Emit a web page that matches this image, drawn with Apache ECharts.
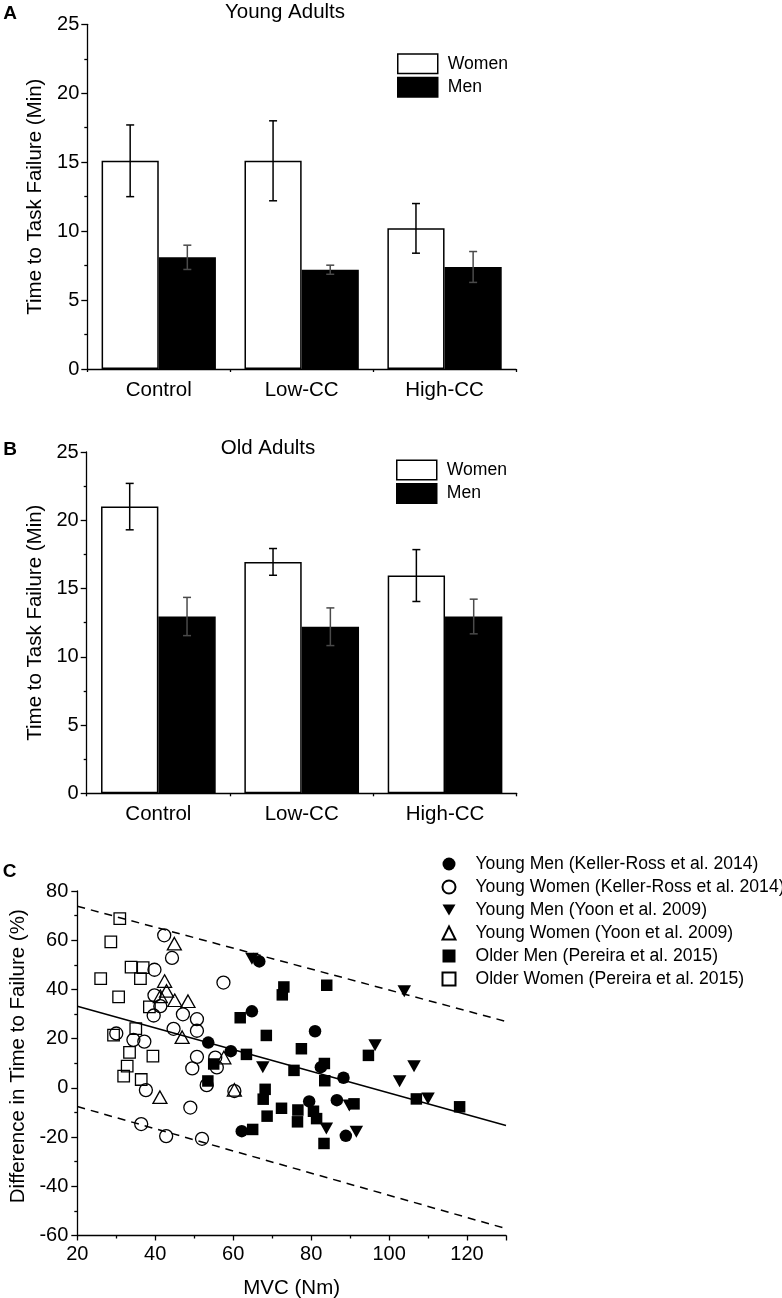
<!DOCTYPE html>
<html><head><meta charset="utf-8">
<script src="https://cdn.jsdelivr.net/npm/echarts@6/dist/echarts.min.js"></script>
<style>html,body{margin:0;padding:0;background:#fff}#c{width:782px;height:1298px}</style>
</head><body><div id="c"></div>
<script>
// ---------- Panels A & B (bars) ----------
const categories = ['Control', 'Low-CC', 'High-CC'];
const barTicks = [0, 5, 10, 15, 20, 25];
const youngWomen = [15.1, 15.1, 10.2];
const youngWomenErr = [2.6, 2.9, 1.8];
const youngMen = [8.1, 7.2, 7.4];
const youngMenErr = [0.88, 0.33, 1.12];
const oldWomen = [21.0, 16.95, 15.95];
const oldWomenErr = [1.7, 0.98, 1.9];
const oldMen = [12.95, 12.2, 12.95];
const oldMenErr = [1.4, 1.38, 1.27];

// ---------- Panel C (scatter) ----------
const mvcTicks = [20, 40, 60, 80, 100, 120];
const mvcMax = 130;
const diffTicks = [-60, -40, -20, 0, 20, 40, 60, 80];
const youngMenKR = [[66.7,51.4],[64.8,31.1],[81.0,23.0],[53.6,18.4],[59.4,14.9],[82.5,8.4],[88.3,4.1],[79.5,-5.5],[86.6,-5.0],[62.2,-17.6],[88.9,-19.5]];
const youngWomenKR = [[42.3,62.0],[44.3,52.8],[39.8,48.0],[57.5,42.8],[39.8,37.6],[41.3,33.2],[39.6,29.4],[47.1,29.9],[50.7,27.9],[44.7,24.0],[50.7,23.2],[30.0,22.1],[34.4,19.5],[37.2,18.8],[50.7,12.6],[55.4,12.3],[49.5,7.9],[55.8,8.3],[53.2,1.1],[37.6,-0.9],[60.3,-1.3],[49.0,-8.0],[36.4,-14.7],[42.8,-19.6],[52.0,-20.7]];
const youngMenYoon = [[64.8,52.5],[103.9,39.3],[96.4,17.3],[106.4,8.8],[102.7,2.7],[67.6,8.4],[110.0,-4.3],[89.8,-7.2],[83.9,-16.5],[91.6,-17.8]];
const youngWomenYoon = [[44.9,58.6],[42.4,43.4],[42.9,39.4],[41.3,37.2],[45.0,35.6],[48.4,35.2],[46.9,20.6],[57.6,12.3],[60.3,-0.8],[41.2,-3.8]];
const olderMenP = [[84.0,41.7],[73.0,41.0],[72.6,37.8],[61.8,28.5],[68.5,21.3],[77.5,15.9],[63.4,13.6],[94.7,13.2],[83.4,9.9],[55.0,9.7],[75.6,7.1],[53.5,2.8],[83.5,2.9],[68.2,-0.6],[67.7,-4.6],[91.0,-6.5],[107.0,-4.5],[118.1,-7.7],[72.4,-8.3],[76.6,-9.0],[80.6,-9.5],[68.7,-11.5],[76.5,-13.8],[81.4,-12.5],[65.0,-16.9],[83.3,-22.6]];
const olderWomenP = [[30.9,68.8],[28.6,59.3],[33.8,49.1],[36.9,48.9],[36.2,44.4],[26.0,44.4],[30.6,37.0],[38.5,32.9],[35.0,24.1],[29.3,21.4],[33.4,14.4],[39.4,12.9],[32.8,8.8],[31.9,4.8],[36.4,3.4]];
const fitLine = [[20, 33.2], [130, -15.3]];
const upperBand = [[20, 73.8], [130, 27.0]];
const lowerBand = [[20, -7.6], [130, -57.2]];

const FONT = "'Liberation Sans', Arial, sans-serif";
const axisLineStyle = { color: '#000', width: 1.3 };

function catAxes(gridIndex) {
  return [
    { type: 'category', gridIndex, position: 'bottom', data: categories,
      axisLine: { lineStyle: axisLineStyle },
      axisTick: { alignWithLabel: true, length: 5, lineStyle: axisLineStyle },
      axisLabel: { color: '#000', fontSize: 20.5, fontFamily: FONT, margin: 11 },
      splitLine: { show: false } },
    { type: 'category', gridIndex, position: 'bottom', data: categories,
      axisLine: { show: false },
      axisTick: { show: true, length: 3, lineStyle: axisLineStyle },
      axisLabel: { show: false }, splitLine: { show: false } }
  ];
}
function barYAxis(gridIndex) {
  return { type: 'value', gridIndex, min: barTicks[0], max: barTicks[barTicks.length - 1],
    interval: barTicks[1] - barTicks[0],
    name: 'Time to Task Failure (Min)', nameLocation: 'middle', nameGap: 40,
    nameTextStyle: { color: '#000', fontSize: 20.5, fontFamily: FONT },
    axisLine: { show: true, lineStyle: axisLineStyle },
    axisTick: { show: true, length: 6, lineStyle: axisLineStyle },
    minorTick: { show: true, splitNumber: 2, length: 3, lineStyle: axisLineStyle },
    axisLabel: { color: '#000', fontSize: 20, fontFamily: FONT, margin: 8 },
    splitLine: { show: false } };
}
function barSeries(name, xi, yi, values, fill) {
  return { type: 'bar', name, xAxisIndex: xi, yAxisIndex: yi, data: values,
    barWidth: '40%', barGap: '0%',
    itemStyle: { color: fill, borderColor: '#000', borderWidth: 1.5, opacity: 1 } };
}
function errSeries(name, xi, yi, means, errs, side, color) {
  return { type: 'custom', name, xAxisIndex: xi, yAxisIndex: yi, z: 5,
    data: means.map((m, i) => [i, m, errs[i]]),
    encode: { x: 0, y: 1 },
    renderItem(params, api) {
      const i = api.value(0), m = api.value(1), e = api.value(2);
      const w = api.size([1, 0])[0];
      const hi = api.coord([i, m + e]);
      const lo = api.coord([i, m - e]);
      const x = hi[0] + side * 0.2 * w;
      const cap = 4;
      const st = { stroke: color, lineWidth: 1.5 };
      return { type: 'group', children: [
        { type: 'line', shape: { x1: x, y1: hi[1], x2: x, y2: lo[1] }, style: st },
        { type: 'line', shape: { x1: x - cap, y1: hi[1], x2: x + cap, y2: hi[1] }, style: st },
        { type: 'line', shape: { x1: x - cap, y1: lo[1], x2: x + cap, y2: lo[1] }, style: st }
      ] };
    } };
}
const hollow = { color: 'rgba(255,255,255,0)', borderColor: '#000', borderWidth: 1.3, opacity: 1 };
const solid = { color: '#000', borderColor: '#000', borderWidth: 0, opacity: 1 };
function scatter(name, data, symbol, size, style) {
  return { type: 'scatter', name, xAxisIndex: 4, yAxisIndex: 2, data, symbol, symbolSize: size,
    itemStyle: style, z: 3, emphasis: { disabled: true } };
}
function refLine(name, data, type) {
  return { type: 'line', name, xAxisIndex: 4, yAxisIndex: 2, data, showSymbol: false, symbol: 'none',
    lineStyle: { color: '#000', width: 1.5, type }, z: 2, silent: true };
}
const downTri = 'path://M0,0 L20,0 L10,17 Z';
const scNames = ['Young Men (Keller-Ross et al. 2014)', 'Young Women (Keller-Ross et al. 2014)',
  'Young Men (Yoon et al. 2009)', 'Young Women (Yoon et al. 2009)',
  'Older Men (Pereira et al. 2015)', 'Older Women (Pereira et al. 2015)'];

const chart = echarts.init(document.getElementById('c'), null, { renderer: 'canvas' });
chart.setOption({
  animation: false,
  backgroundColor: '#fff',
  textStyle: { fontFamily: FONT, color: '#000' },
  grid: [
    { left: 87.3, top: 24.3, width: 428.7, height: 344.7, containLabel: false, outerBoundsMode: 'none' },
    { left: 86.7, top: 452, width: 430, height: 341.3, containLabel: false, outerBoundsMode: 'none' },
    { left: 77.3, top: 891, width: 428.7, height: 344.5, containLabel: false, outerBoundsMode: 'none' }
  ],
  xAxis: [
    ...catAxes(0), ...catAxes(1),
    { type: 'value', gridIndex: 2, min: mvcTicks[0], max: mvcMax, interval: mvcTicks[1] - mvcTicks[0],
      name: 'MVC (Nm)', nameLocation: 'middle', nameGap: 42,
      nameTextStyle: { color: '#000', fontSize: 20.5, fontFamily: FONT },
      axisLine: { show: true, onZero: false, lineStyle: axisLineStyle },
      axisTick: { show: true, length: 5, lineStyle: axisLineStyle },
      minorTick: { show: true, splitNumber: 2, length: 3, lineStyle: axisLineStyle },
      axisLabel: { color: '#000', fontSize: 20, fontFamily: FONT, margin: 9, showMaxLabel: false,
        formatter: v => (mvcTicks.indexOf(v) >= 0 ? String(v) : '') },
      splitLine: { show: false } }
  ],
  yAxis: [
    barYAxis(0), barYAxis(1),
    { type: 'value', gridIndex: 2, min: diffTicks[0], max: diffTicks[diffTicks.length - 1],
      interval: diffTicks[1] - diffTicks[0],
      name: 'Difference in Time to Failure (%)', nameLocation: 'middle', nameGap: 43,
      nameTextStyle: { color: '#000', fontSize: 20.5, fontFamily: FONT, padding: [0, 0, 0, 14] },
      axisLine: { show: true, onZero: false, lineStyle: axisLineStyle },
      axisTick: { show: true, length: 6, lineStyle: axisLineStyle },
      minorTick: { show: true, splitNumber: 2, length: 3, lineStyle: axisLineStyle },
      axisLabel: { color: '#000', fontSize: 20, fontFamily: FONT, margin: 9 },
      splitLine: { show: false } }
  ],
  legend: [
    { data: ['Women', 'Men'], orient: 'vertical', left: 397, top: 53.3, padding: 0,
      icon: 'rect', itemWidth: 40, itemHeight: 19.5, itemGap: 2.5, selectedMode: false,
      itemStyle: { borderColor: '#000', borderWidth: 1.5 },
      textStyle: { color: '#000', fontSize: 17.6, fontFamily: FONT, lineHeight: 19.5, padding: [0, 0, 0, 5] } },
    { data: ['Women', 'Men'], orient: 'vertical', left: 396, top: 459.5, padding: 0,
      icon: 'rect', itemWidth: 40, itemHeight: 19.5, itemGap: 2.5, selectedMode: false,
      itemStyle: { borderColor: '#000', borderWidth: 1.5 },
      textStyle: { color: '#000', fontSize: 17.6, fontFamily: FONT, lineHeight: 19.5, padding: [0, 0, 0, 5] } },
    { data: scNames, orient: 'vertical', left: 441.5, top: 855, padding: 0,
      itemWidth: 13, itemHeight: 13, itemGap: 5, selectedMode: false,
      textStyle: { color: '#000', fontSize: 17.6, fontFamily: FONT, lineHeight: 13, padding: [0, 0, 0, 15] } }
  ],
  graphic: [
    { type: 'text', x: 10, y: 13.3, style: { text: 'A', font: "bold 19px " + FONT, fill: '#000', textAlign: 'center', textVerticalAlign: 'middle' } },
    { type: 'text', x: 285, y: 12.5, style: { text: 'Young Adults', font: "20.5px " + FONT, fill: '#000', textAlign: 'center', textVerticalAlign: 'middle' } },
    { type: 'text', x: 10, y: 450, style: { text: 'B', font: "bold 19px " + FONT, fill: '#000', textAlign: 'center', textVerticalAlign: 'middle' } },
    { type: 'text', x: 268, y: 448.5, style: { text: 'Old Adults', font: "20.5px " + FONT, fill: '#000', textAlign: 'center', textVerticalAlign: 'middle' } },
    { type: 'text', x: 9.5, y: 871.7, style: { text: 'C', font: "bold 19px " + FONT, fill: '#000', textAlign: 'center', textVerticalAlign: 'middle' } }
  ],
  series: [
    barSeries('Women', 0, 0, youngWomen, '#fff'),
    barSeries('Men', 0, 0, youngMen, '#000'),
    errSeries('Women SD A', 0, 0, youngWomen, youngWomenErr, -1, '#000'),
    errSeries('Men SD A', 0, 0, youngMen, youngMenErr, 1, '#4a4a4a'),
    barSeries('Women', 2, 1, oldWomen, '#fff'),
    barSeries('Men', 2, 1, oldMen, '#000'),
    errSeries('Women SD B', 2, 1, oldWomen, oldWomenErr, -1, '#000'),
    errSeries('Men SD B', 2, 1, oldMen, oldMenErr, 1, '#4a4a4a'),
    refLine('Fit', fitLine, 'solid'),
    refLine('Upper 95%', upperBand, [8, 6]),
    refLine('Lower 95%', lowerBand, [8, 6]),
    scatter(scNames[0], youngMenKR, 'circle', 12.5, solid),
    scatter(scNames[1], youngWomenKR, 'circle', 13, hollow),
    scatter(scNames[2], youngMenYoon, downTri, [13.5, 12], solid),
    scatter(scNames[3], youngWomenYoon, 'triangle', [14, 12.5], hollow),
    scatter(scNames[4], olderMenP, 'rect', 11.5, solid),
    scatter(scNames[5], olderWomenP, 'rect', 11.5, hollow)
  ]
});
</script>
</body></html>
